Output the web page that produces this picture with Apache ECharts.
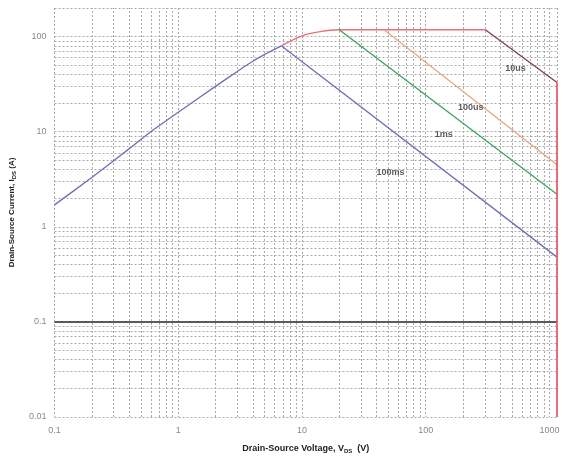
<!DOCTYPE html>
<html><head><meta charset="utf-8">
<script src="https://cdn.jsdelivr.net/npm/echarts@6/dist/echarts.min.js"></script>
<style>html,body{margin:0;padding:0;background:#fff}#c{width:563px;height:462px}</style>
</head><body><div id="c"></div>
<script>
// ---- data ----
const xTickLabels = ['0.1', '1', '10', '100', '1000'];
const yTickLabels = ['0.01', '0.1', '1', '10', '100'];
const xMinor = [0.2,0.3,0.4,0.5,0.6,0.7,0.8,0.9, 2,3,4,5,6,7,8,9, 20,30,40,50,60,70,80,90, 200,300,400,500,600,700,800,900];
const yMinor = [0.02,0.03,0.04,0.05,0.06,0.07,0.08,0.09, 0.2,0.3,0.4,0.5,0.6,0.7,0.8,0.9, 2,3,4,5,6,7,8,9, 20,30,40,50,60,70,80,90];

const rdsV = [0.1, 0.2, 0.4, 0.6, 1, 2, 3, 4, 5, 6.8];
const rdsI = [1.7, 3.3, 6.6, 10, 16, 30, 43, 55, 65, 80];
const ms100V = [6.8, 1150];
const ms100I = [80, 0.48];
const ms1V = [20, 1150];
const ms1I = [118, 2.2];
const us100V = [46, 1150];
const us100I = [118, 4.5];
const us10V = [303, 1150];
const us10I = [118, 33];
const limitV = [6.8, 10, 14, 20, 303];
const limitI = [80, 102, 113, 118, 118];
const vmaxV = [1150, 1150];
const vmaxI = [33, 0.01];

const labelTexts = ['10us', '100us', '1ms', '100ms'];
const labelV = [532, 231, 140, 52];
const labelI = [46, 18, 9.4, 3.7];

const zip = (a, b) => a.map((v, i) => [v, b[i]]);
const fmt = labels => v => {
  for (const l of labels) if (Math.abs(Math.log10(v) - Math.log10(parseFloat(l))) < 1e-6) return l;
  return '';
};

const gridLine = {color: '#aaaaaa', width: 1, type: [2, 2]};

function line(data, color, w, smooth) {
  return {type: 'line', data, symbol: 'none', clip: false, silent: true, animation: false,
    smooth: smooth || false, lineStyle: {color, width: w || 1.3}, z: 5};
}

const chart = echarts.init(document.getElementById('c'), null, {renderer: 'canvas'});
chart.setOption({
  animation: false,
  grid: {left: 53, right: 6, top: 8, bottom: 45},
  xAxis: {
    type: 'log', logBase: 10, min: 0.1, max: 1150,
    name: 'Drain-Source Voltage, V{s|DS}  (V)', nameLocation: 'middle', nameGap: 26,
    nameTextStyle: {fontFamily: 'Liberation Sans', fontWeight: 'bold', fontSize: 9, color: '#222',
      rich: {s: {fontSize: 6, fontWeight: 'bold', color: '#222', padding: [5, 0, 0, 0]}}},
    axisLine: {show: false}, axisTick: {show: false},
    axisLabel: {formatter: fmt(xTickLabels), color: '#888', fontSize: 9, fontFamily: 'Liberation Sans', margin: 9, showMaxLabel: false},
    splitLine: {show: true, lineStyle: gridLine}
  },
  yAxis: {
    type: 'log', logBase: 10, min: 0.01, max: 200,
    name: 'Drain-Source Current, I{s|DS} (A)', nameLocation: 'middle', nameGap: 37, nameRotate: 90,
    nameTextStyle: {fontFamily: 'Liberation Sans', fontWeight: 'bold', fontSize: 8, color: '#222',
      rich: {s: {fontSize: 6, fontWeight: 'bold', color: '#222', padding: [5, 0, 0, 0]}}},
    axisLine: {show: false}, axisTick: {show: false},
    axisLabel: {formatter: fmt(yTickLabels), color: '#888', fontSize: 9, fontFamily: 'Liberation Sans', margin: 8, showMaxLabel: false},
    splitLine: {show: true, lineStyle: gridLine}
  },
  series: [
    {type: 'line', data: [], silent: true, z: 1,
      markLine: {silent: true, symbol: 'none', label: {show: false}, animation: false,
        lineStyle: gridLine,
        data: xMinor.map(v => ({xAxis: v})).concat(yMinor.map(v => ({yAxis: v})))}},
    {type: 'line', data: [], silent: true, z: 2,
      markLine: {silent: true, symbol: 'none', label: {show: false}, animation: false,
        lineStyle: {color: '#5a5a5a', width: 2, type: 'solid'},
        data: [{yAxis: 0.1}]}},
    line(zip(rdsV, rdsI), '#6c6fb5', 1.3, 0.2),
    line(zip(ms100V, ms100I), '#6c6fb5'),
    line(zip(limitV, limitI), '#e8707a', 1.4, 0.3),
    line(zip(ms1V, ms1I), '#3f9f5f'),
    line(zip(us100V, us100I), '#e6a77e'),
    line(zip(us10V, us10I), '#7d3f4f'),
    line(zip(vmaxV, vmaxI), '#e8606a', 1.8),
    {type: 'scatter', symbolSize: 0, silent: true, z: 10,
      data: labelTexts.map((t, i) => ({value: [labelV[i], labelI[i]], name: t})),
      label: {show: true, position: 'inside', formatter: p => p.name,
        fontFamily: 'Liberation Sans', fontWeight: 'bold', fontSize: 9, color: '#333'}}
  ]
});
</script></body></html>
